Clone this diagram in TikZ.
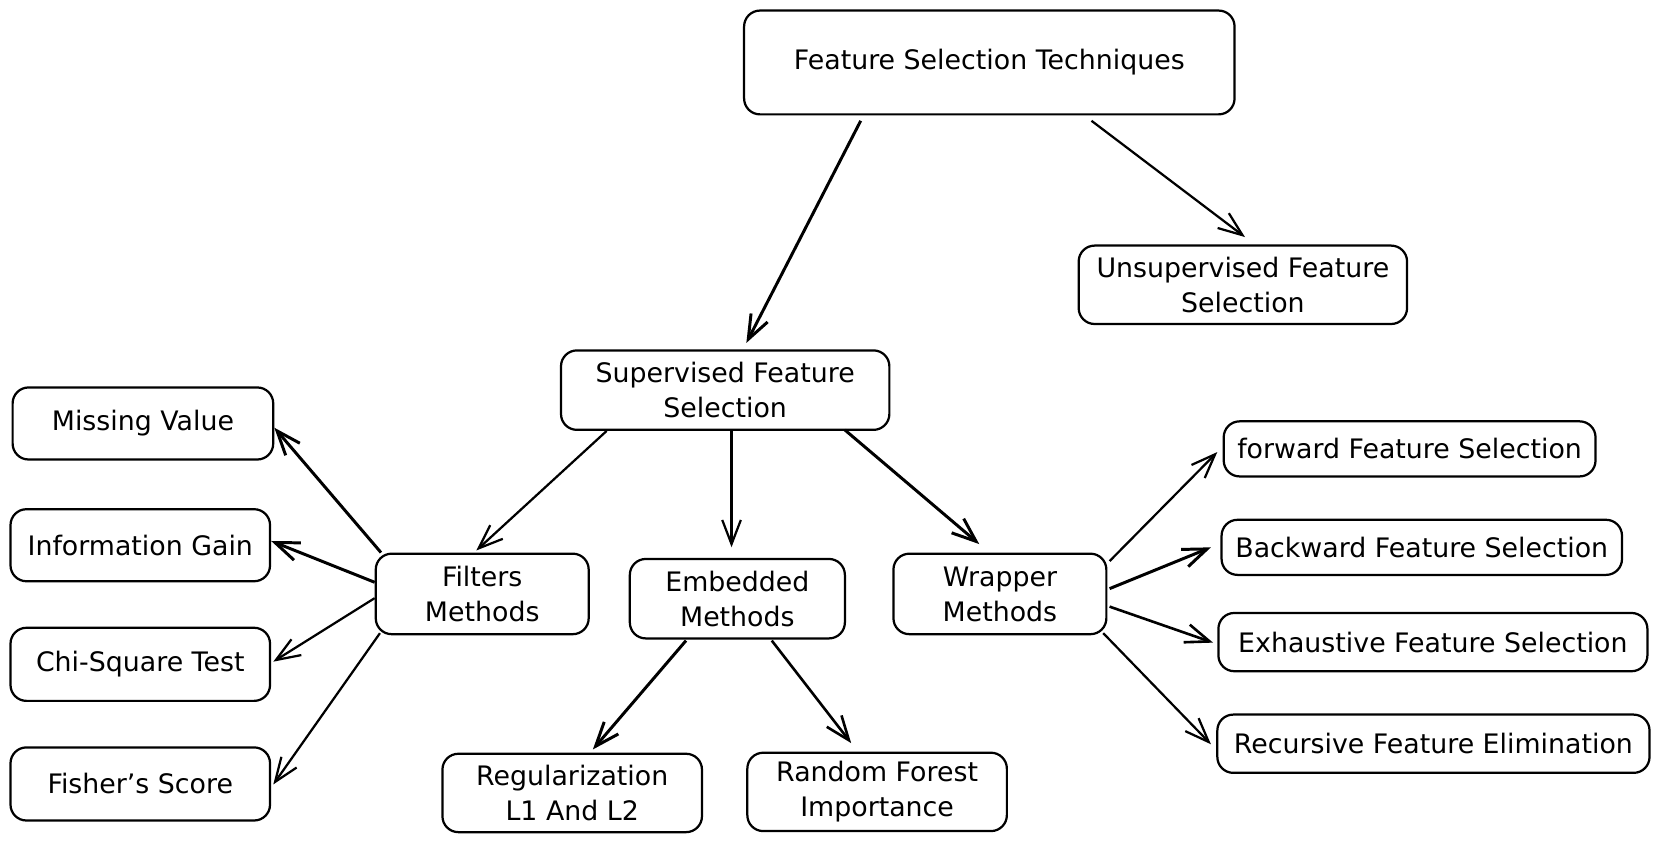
\documentclass[tikz,border=0pt]{standalone}
\usepackage{fontspec}
\setmainfont{DejaVu Sans}
\usepackage{tikz}
\usetikzlibrary{calc, arrows.meta}

\tikzset{
  box/.style={draw, line width=0.6pt, rounded corners=0.15cm, align=center,
    inner sep=0pt, font=\fontsize{7.2}{9.4}\selectfont},
  link/.style={line width=0.6pt, -{Straight Barb[length=6.5pt, width=5pt]}}
}

\begin{document}
\begin{tikzpicture}[x=0.01cm, y=-0.01cm]
    \useasboundingbox (0,0) rectangle (1568,796);% Same frame as the sketch

    % Top of the tree
    \node[box, minimum width=4.63cm, minimum height=0.98cm] (Techniques) at (934.5,59) {Feature Selection Techniques};
    \node[box, minimum width=3.10cm, minimum height=0.74cm] (Unsupervised) at (1174,269) {Unsupervised Feature\\Selection};
    \node[box, minimum width=3.10cm, minimum height=0.75cm] (Supervised) at (685,368.5) {Supervised Feature\\Selection};

    % The three families
    \node[box, minimum width=2.01cm, minimum height=0.76cm] (Filters) at (455.5,561) {Filters\\Methods};
    \node[box, minimum width=2.03cm, minimum height=0.75cm] (Embedded) at (696.5,565.5) {Embedded\\Methods};
    \node[box, minimum width=2.01cm, minimum height=0.76cm] (Wrapper) at (944.5,561) {Wrapper\\Methods};

    % Filter leaves
    \node[box, minimum width=2.46cm, minimum height=0.68cm] (MissingValue) at (135,400) {Missing Value};
    \node[box, minimum width=2.45cm, minimum height=0.68cm] (InfoGain) at (132.5,515) {Information Gain};
    \node[box, minimum width=2.45cm, minimum height=0.69cm] (ChiSquare) at (132.5,627.5) {Chi-Square Test};
    \node[box, minimum width=2.45cm, minimum height=0.69cm] (Fisher) at (132.5,740.5) {Fisher's Score};

    % Embedded leaves
    \node[box, minimum width=2.45cm, minimum height=0.74cm] (Regular) at (540.5,749) {Regularization\\L1 And L2};
    \node[box, minimum width=2.45cm, minimum height=0.74cm] (Forest) at (828.5,748) {Random Forest\\Importance};

    % Wrapper leaves
    \node[box, minimum width=3.51cm, minimum height=0.52cm] (Forward) at (1331.5,424) {forward Feature Selection};
    \node[box, minimum width=3.78cm, minimum height=0.52cm] (Backward) at (1343,517) {Backward Feature Selection};
    \node[box, minimum width=4.05cm, minimum height=0.55cm] (Exhaustive) at (1353.5,606.5) {Exhaustive Feature Selection};
    \node[box, minimum width=4.08cm, minimum height=0.55cm] (Recursive) at (1354,702.5) {Recursive Feature Elimination};

    % Arrows, loose ends like a hand drawing
    \draw[link, line width=0.8pt] ($(Techniques.south)+(-121.5,5)$) -- ($(Supervised.north)+(20,-6)$);
    \draw[link] ($(Techniques.south)+(96.5,5)$) -- ($(Unsupervised.north)+(2,-7)$);

    \draw[link] ($(Supervised.south)+(-112,0)$) -- ($(Filters.north)+(-5.5,-2)$);
    \draw[link] ($(Supervised.south)+(6,0)$) -- ($(Embedded.north)+(-5.5,-10)$);
    \draw[link, line width=0.8pt] ($(Supervised.south)+(113,-1)$) -- ($(Wrapper.north)+(-19.5,-8)$);

    \draw[link, line width=0.8pt] ($(Filters.north west)+(6,0)$) -- ($(MissingValue.east)+(0,4)$);
    \draw[link, line width=0.8pt] ($(Filters.west)+(0,-11)$) -- ($(InfoGain.east)+(0,-4)$);
    \draw[link] ($(Filters.west)+(0,4)$) -- ($(ChiSquare.east)+(2,-2.5)$);
    \draw[link] ($(Filters.south west)+(5,-2)$) -- ($(Fisher.east)+(2,0.5)$);

    \draw[link, line width=0.8pt] ($(Embedded.south)+(-48.5,1)$) -- ($(Regular.north)+(19.5,-3)$);
    \draw[link, line width=0.7pt] ($(Embedded.south)+(32.5,1)$) -- ($(Forest.north)+(-24.5,-8)$);

    \draw[link] ($(Wrapper.east)+(2,-31)$) -- ($(Forward.west)+(-5,3)$);
    \draw[link, line width=0.8pt] ($(Wrapper.east)+(2,-5)$) -- ($(Backward.west)+(-9,0)$);
    \draw[link, line width=0.7pt] ($(Wrapper.east)+(2,12)$) -- ($(Exhaustive.west)+(-4,0.5)$);
    \draw[link] ($(Wrapper.south east)+(-4,-2)$) -- ($(Recursive.west)+(-5,0.5)$);
\end{tikzpicture}
\end{document}
